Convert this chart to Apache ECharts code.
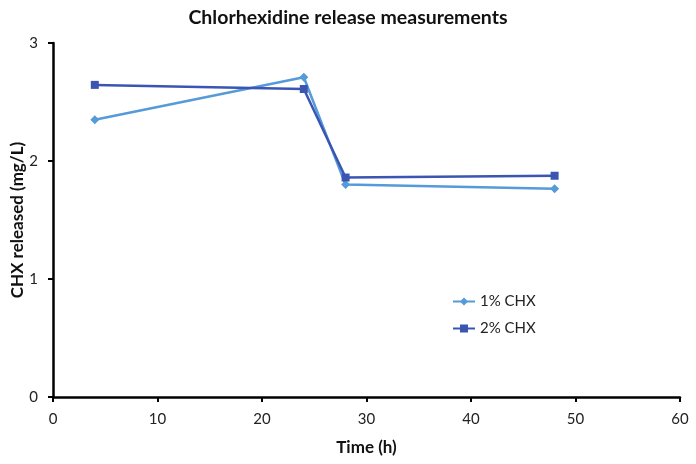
<!DOCTYPE html>
<html><head><meta charset="utf-8">
<script src="https://cdn.jsdelivr.net/npm/echarts@6/dist/echarts.min.js"></script>
<style>html,body{margin:0;padding:0;background:#fff}#c{width:696px;height:464px}</style>
</head><body><div id="c"></div>
<script>
const times = [4, 24, 28, 48];
const chx1 = [2.35, 2.71, 1.80, 1.765];
const chx2 = [2.645, 2.61, 1.86, 1.875];
const seriesNames = ['1% CHX', '2% CHX'];
const font = 'Lato, "Open Sans", sans-serif';
const chart = echarts.init(document.getElementById('c'), null, {renderer: 'canvas'});
const axisCommon = {
  axisLine: {show: true, lineStyle: {color: '#000', width: 2.5}},
  axisTick: {show: true, inside: false, length: 5, lineStyle: {color: '#000', width: 2}},
  splitLine: {show: false},
  axisLabel: {color: '#222', fontSize: 15, fontFamily: font, margin: 15},
  nameTextStyle: {color: '#111', fontSize: 17, fontWeight: 'bold', fontFamily: font}
};
chart.setOption({
  animation: false,
  title: {text: 'Chlorhexidine release measurements', left: 'center', top: 3,
    textStyle: {fontSize: 19.5, fontWeight: 'bold', color: '#111', fontFamily: font}},
  grid: {left: 53, right: 16, top: 43, bottom: 67, containLabel: false, outerBoundsMode: 'none'},
  legend: {orient: 'vertical', left: 447, top: 289, itemGap: 12, itemWidth: 22, itemHeight: 10,
    textStyle: {fontSize: 15, color: '#222', fontFamily: font},
    data: seriesNames},
  xAxis: Object.assign({type: 'value', min: 0, max: 60, interval: 10, name: 'Time (h)',
    nameLocation: 'middle', nameGap: 42, nameMoveOverlap: false}, axisCommon),
  yAxis: Object.assign({type: 'value', min: 0, max: 3, interval: 1, name: 'CHX released (mg/L)',
    nameLocation: 'middle', nameGap: 27, nameMoveOverlap: false}, axisCommon),
  series: [
    {name: seriesNames[0], type: 'line', data: times.map((t, i) => [t, chx1[i]]),
     symbol: 'diamond', symbolSize: 9, lineStyle: {color: '#559ad9', width: 2.5},
     itemStyle: {color: '#559ad9'}},
    {name: seriesNames[1], type: 'line', data: times.map((t, i) => [t, chx2[i]]),
     symbol: 'rect', symbolSize: 8, lineStyle: {color: '#3a55b2', width: 2.5},
     itemStyle: {color: '#3a55b2'}}
  ]
});
</script></body></html>
